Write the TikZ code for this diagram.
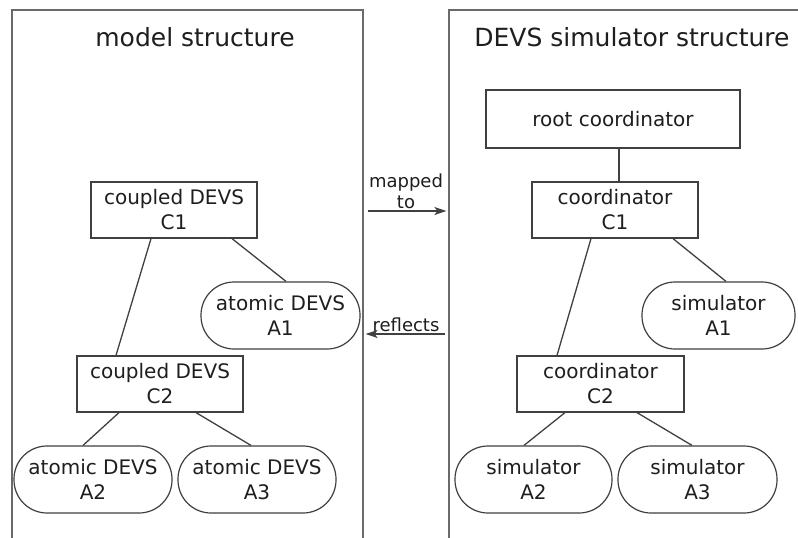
\documentclass[tikz,border=0pt]{standalone}
\usepackage{fontspec}
\setmainfont{DejaVu Sans}
\usetikzlibrary{arrows.meta}
\definecolor{linec}{HTML}{404040}
\definecolor{framec}{HTML}{6A6A6A}
\definecolor{textc}{HTML}{1E1E1E}

\begin{document}
\begin{tikzpicture}[x=1pt,y=-1pt,
  every node/.style={text=textc},
  panel/.style={draw=framec, line width=1.2pt, minimum height=535, inner sep=0},
  box/.style={draw=linec, line width=1.2pt, fill=white, minimum height=56, inner sep=0, align=center,
    font=\fontsize{20}{25}\selectfont},
  pill/.style={box, minimum height=67, rounded corners=33},
  edge/.style={draw=linec, line width=1.3pt},
  flow/.style={draw=linec, line width=1.3pt, -{Stealth[length=12pt,width=8pt,inset=3pt]}},
  title/.style={font=\fontsize{25}{30}\selectfont},
  tag/.style={font=\fontsize{18}{21}\selectfont, align=center, inner sep=2}]
\clip (0,0) rectangle (798,538);
\fill[white] (0,0) rectangle (798,538);
\node[panel, minimum width=351] (model) at (187.5,277.5) {};
\node[panel, minimum width=361] (sim) at (629.5,277.5) {};
\node[title] (tmodel) at (195,37) {model structure};
\node[title] (tsim) at (632,37) {DEVS simulator structure};
\node[box, minimum width=166] (c1) at (174,210) {coupled DEVS\\C1};
\node[pill, minimum width=159] (a1) at (280.5,315.5) {atomic DEVS\\A1};
\node[box, minimum width=166] (c2) at (160,384) {coupled DEVS\\C2};
\node[pill, minimum width=158] (a2) at (93,479.5) {atomic DEVS\\A2};
\node[pill, minimum width=158] (a3) at (257,479.5) {atomic DEVS\\A3};
\node[box, minimum width=254, minimum height=58] (root) at (613,119) {root coordinator};
\node[box, minimum width=166] (rc1) at (615,210) {coordinator\\C1};
\node[pill, minimum width=153] (sa1) at (718.5,315.5) {simulator\\A1};
\node[box, minimum width=167] (rc2) at (600.5,384) {coordinator\\C2};
\node[pill, minimum width=157] (sa2) at (533.5,479.5) {simulator\\A2};
\node[pill, minimum width=159] (sa3) at (697.5,479.5) {simulator\\A3};
\draw[edge] ([xshift=-23]c1.south) -- ([xshift=-44]c2.north);
\draw[edge] ([xshift=58]c1.south) -- ([xshift=5.5]a1.north);
\draw[edge] ([xshift=-41]c2.south) -- ([xshift=-10]a2.north);
\draw[edge] ([xshift=36]c2.south) -- ([xshift=-6]a3.north);
\draw[edge] ([xshift=6]root.south) -- ([xshift=4]rc1.north);
\draw[edge] ([xshift=-24]rc1.south) -- ([xshift=-43.5]rc2.north);
\draw[edge] ([xshift=58]rc1.south) -- ([xshift=7.5]sa1.north);
\draw[edge] ([xshift=-35.5]rc2.south) -- ([xshift=-9.5]sa2.north);
\draw[edge] ([xshift=36.5]rc2.south) -- ([xshift=-5.5]sa3.north);
\draw[flow, shorten <=4, shorten >=2] ([yshift=66.5]model.east) -- node[tag, above] {mapped\\to} ([yshift=66.5]sim.west);
\draw[flow, shorten <=3, shorten >=2] ([yshift=-56.5]sim.west) -- node[tag, above] {reflects} ([yshift=-56.5]model.east);
\end{tikzpicture}
\end{document}
